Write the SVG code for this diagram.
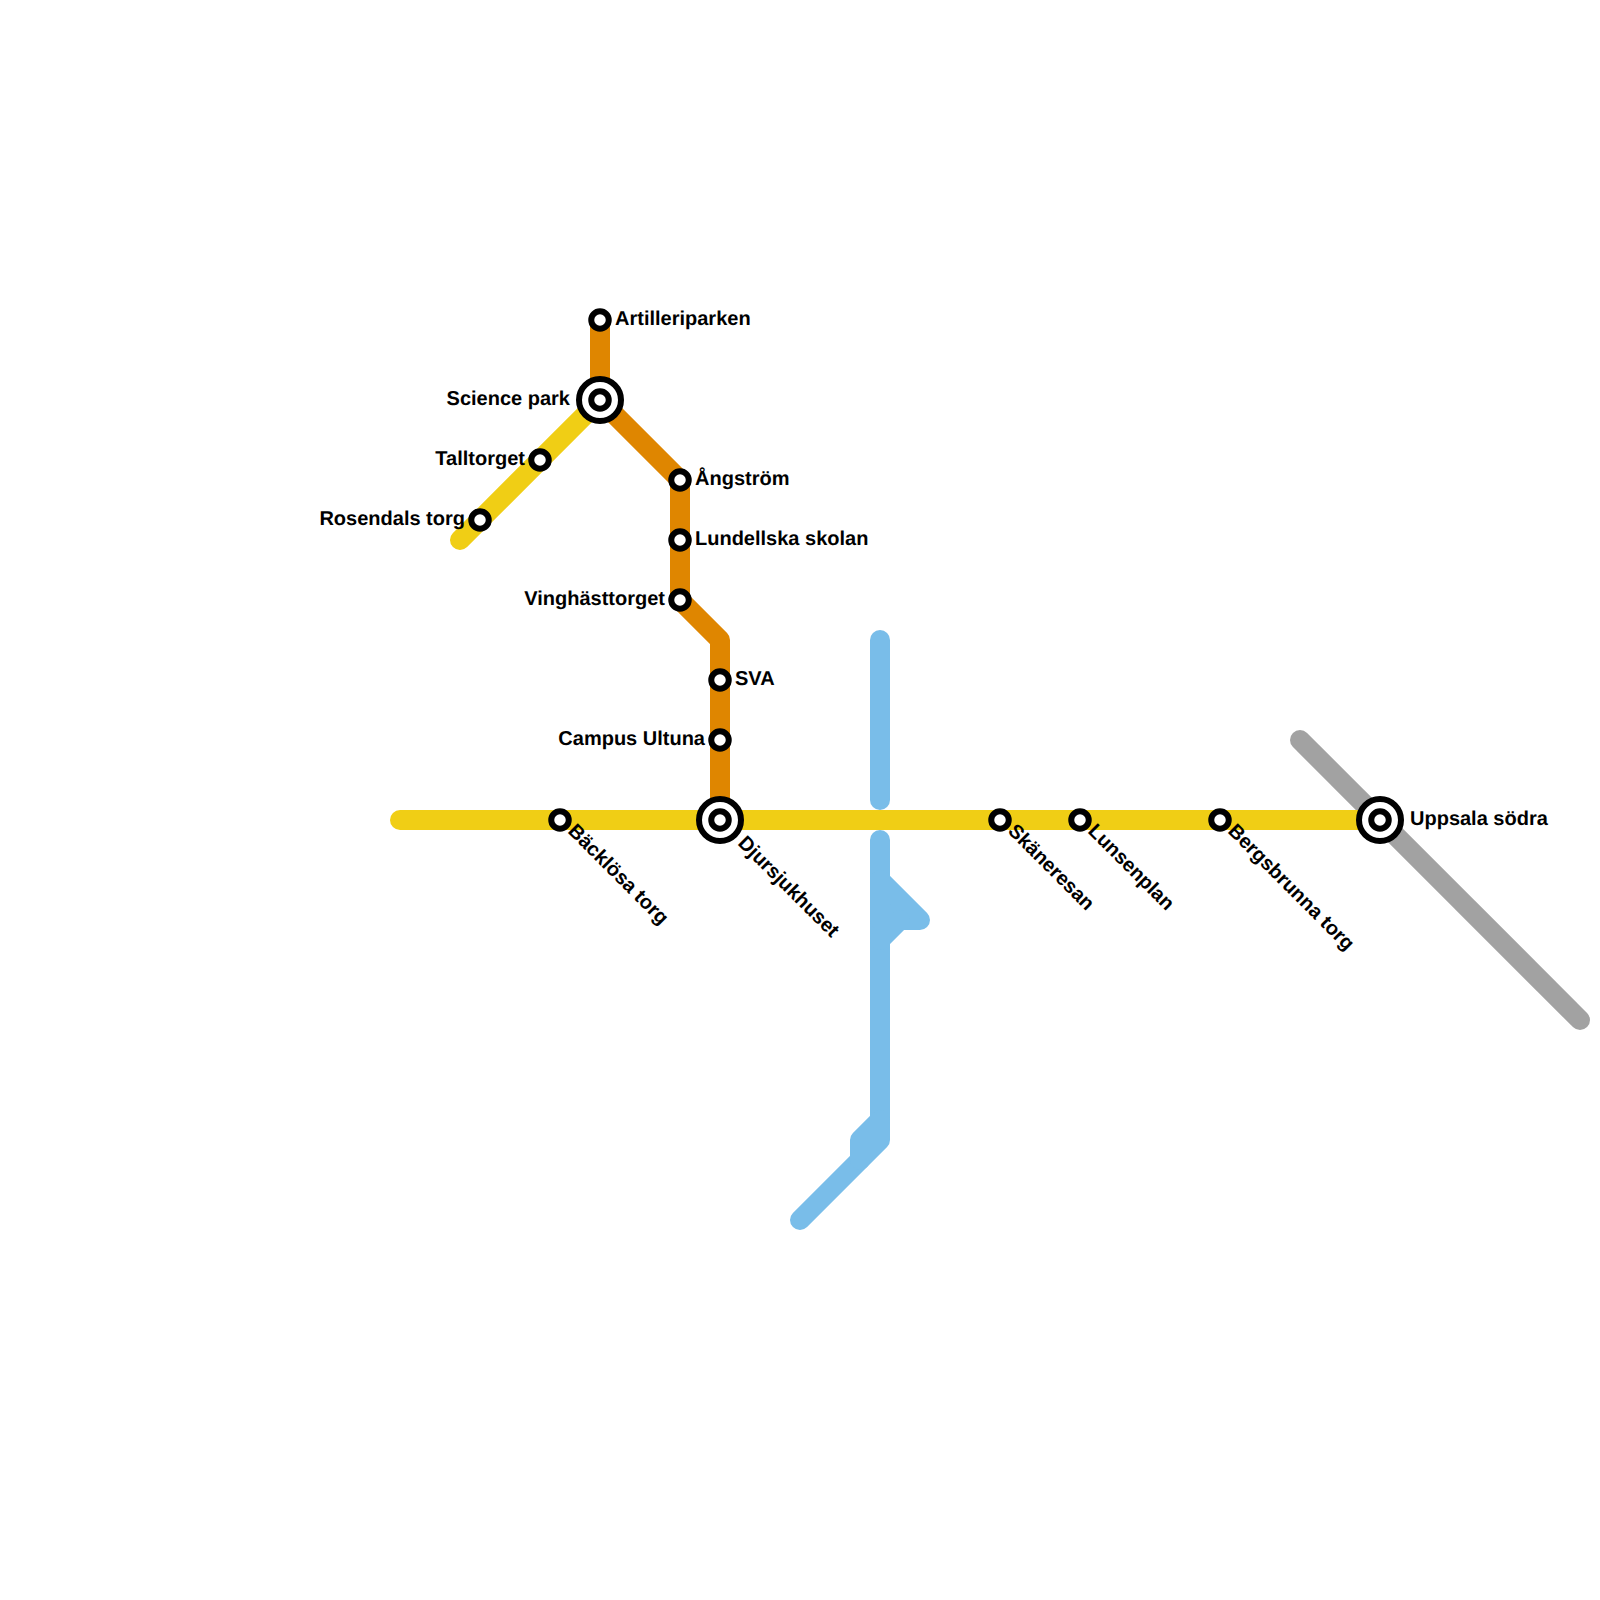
<svg xmlns="http://www.w3.org/2000/svg" width="1600" height="1600" viewBox="0 0 1600 1600">
<style>
.l{fill:none;stroke-width:20;stroke-linecap:round;stroke-linejoin:round}
.y{stroke:#f0ce15}.o{stroke:#df8600}.b{stroke:#79bde9}.g{stroke:#a2a2a2}
.f{fill:#79bde9}
.s{fill:#fff;stroke:#000;stroke-width:6}
.i{fill:#fff;stroke:#000;stroke-width:6}
text{font-family:"Liberation Sans",Arial,sans-serif;font-weight:700;font-size:20px;fill:#000;text-rendering:geometricPrecision}
.e{text-anchor:end}
</style>
<rect width="1600" height="1600" fill="#fff"/>
<g id="connectors">
<path class="l g" d="M1300 740L1580 1020"/>
<path class="l b" d="M880 640V800"/>
<path class="l b" d="M880 840V1140L800 1220"/>
<path class="l b f" d="M880 880L920 920H880Z"/>
<path class="l b" d="M880 940L900 920"/>
<path class="l b" d="M880 1120L860 1140V1160"/>
<path class="l o" d="M600 320V400L680 480V600L720 640V820"/>
<path class="l y" d="M400 820H1380"/>
<path class="l y" d="M600 400L460 540"/>
</g>
<g id="artilleriparken"><circle class="s" cx="600" cy="320" r="8.75"/><text x="615" y="325">Artilleriparken</text></g>
<g id="science-park"><circle class="i" cx="600" cy="400" r="21"/><circle class="s" cx="600" cy="400" r="8.75"/><text class="e" x="570" y="405">Science park</text></g>
<g id="talltorget"><circle class="s" cx="540" cy="460" r="8.75"/><text class="e" x="525" y="465">Talltorget</text></g>
<g id="rosendals-torg"><circle class="s" cx="480" cy="520" r="8.75"/><text class="e" x="465" y="525">Rosendals torg</text></g>
<g id="angstrom"><circle class="s" cx="680" cy="480" r="8.75"/><text x="695" y="485">Ångström</text></g>
<g id="lundellska-skolan"><circle class="s" cx="680" cy="540" r="8.75"/><text x="695" y="545">Lundellska skolan</text></g>
<g id="vinghasttorget"><circle class="s" cx="680" cy="600" r="8.75"/><text class="e" x="665" y="605">Vinghästtorget</text></g>
<g id="sva"><circle class="s" cx="720" cy="680" r="8.75"/><text x="735" y="685">SVA</text></g>
<g id="campus-ultuna"><circle class="s" cx="720" cy="740" r="8.75"/><text class="e" x="705" y="745">Campus Ultuna</text></g>
<g id="backlosa-torg"><circle class="s" cx="560" cy="820" r="8.75"/><text transform="translate(567 832) rotate(45)">Bäcklösa torg</text></g>
<g id="djursjukhuset"><circle class="i" cx="720" cy="820" r="21"/><circle class="s" cx="720" cy="820" r="8.75"/><text transform="translate(737 844) rotate(45)">Djursjukhuset</text></g>
<g id="skaneresan"><circle class="s" cx="1000" cy="820" r="8.75"/><text transform="translate(1007 832) rotate(45)">Skäneresan</text></g>
<g id="lunsenplan"><circle class="s" cx="1080" cy="820" r="8.75"/><text transform="translate(1087 832) rotate(45)">Lunsenplan</text></g>
<g id="bergsbrunna-torg"><circle class="s" cx="1220" cy="820" r="8.75"/><text transform="translate(1227 832) rotate(45)">Bergsbrunna torg</text></g>
<g id="uppsala-sodra"><circle class="i" cx="1380" cy="820" r="21"/><circle class="s" cx="1380" cy="820" r="8.75"/><text x="1410" y="825">Uppsala södra</text></g>
</svg>
